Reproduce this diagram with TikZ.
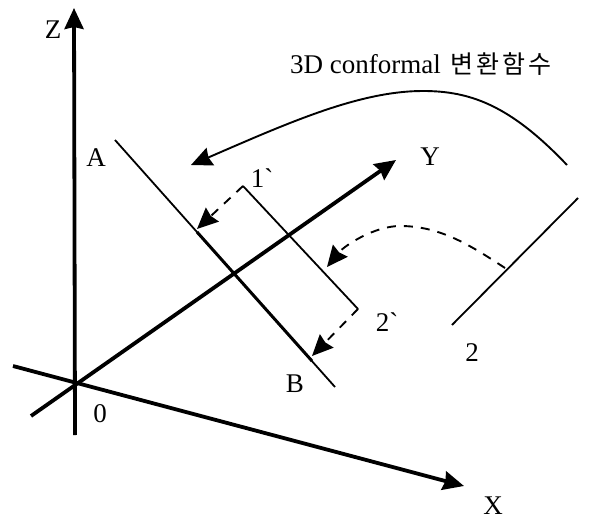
\documentclass[tikz,border=0pt]{standalone}
\usepackage{fontspec}
\newfontfamily\labelfont{Liberation Serif}
\newfontfamily\cjk[LetterSpace=12]{Noto Sans CJK KR}
\usetikzlibrary{arrows.meta}
\tikzset{
    axisline/.style={line width=3.8pt,-{Stealth[length=21pt,width=19pt,inset=2pt]}},
    thinline/.style={line width=1.8pt},
    mapline/.style={line width=1.9pt,-{Stealth[length=21pt,width=19pt,inset=2pt]}},
    dashline/.style={mapline,dash pattern=on 9pt off 8pt},
    every node/.style={font=\labelfont\fontsize{27}{29}\selectfont,inner sep=0pt}
}
\begin{document}
\begin{tikzpicture}[x=1pt,y=-1pt]
    \useasboundingbox (0,0) rectangle (614,522);
    % end points
    \coordinate (zfoot) at (75,435);
    \coordinate (ztip) at (74,8);
    \coordinate (xfoot) at (13,366);
    \coordinate (xtip) at (464,486);
    \coordinate (yfoot) at (31,416);
    \coordinate (ytip) at (396,160);
    \coordinate (atop) at (115,140);
    \coordinate (abot) at (335,387);
    \coordinate (one) at (243,186);
    \coordinate (two) at (358,309);
    \coordinate (onefoot) at (197,229);
    \coordinate (twofoot) at (312,356);
    \coordinate (thicktop) at (197,232);
    \coordinate (thickbot) at (312,361);
    \coordinate (lineup) at (578,198);
    \coordinate (linelow) at (452,325);
    \coordinate (curvestart) at (567,165);
    \coordinate (curveend) at (191,165);
    \coordinate (dashstart) at (505,268);
    \coordinate (dashend) at (327,267);
    % axes
    \draw[axisline] (zfoot) -- (ztip);
    \draw[axisline] (xfoot) -- (xtip);
    \draw[axisline] (yfoot) -- (ytip);
    % planes
    \draw[thinline] (atop) -- (abot);
    \draw[line width=3pt] (thicktop) -- (thickbot);
    \draw[thinline] (one) -- (two);
    \draw[thinline] (lineup) -- (linelow);
    % mappings
    \draw[mapline] (curvestart) .. controls (510,105) and (470,91) .. (423,91)
        .. controls (360,91) and (290,122) .. (curveend);
    \draw[dashline] (dashstart) .. controls (470,245) and (440,226) .. (400,226)
        .. controls (375,226) and (345,245) .. (dashend);
    \draw[dashline] (one) -- (onefoot);
    \draw[dashline] (two) -- (twofoot);
    % labels
    \node (zlabel) at (53,30) {Z};
    \node (xlabel) at (493,506) {X};
    \node (ylabel) at (430,157) {Y};
    \node (origin) at (100,414) {0};
    \node (alabel) at (96,158) {A};
    \node (blabel) at (295,384) {B};
    \node (onelabel) at (262,178) {1`};
    \node (twolabel) at (387,322) {2`};
    \node (linelabel) at (472,353) {2};
    \node[anchor=west] (title) at (290,64)
        {3D conformal\hspace{3pt} {\cjk\fontsize{25}{27}\selectfont 변환함수}};
\end{tikzpicture}
\end{document}
